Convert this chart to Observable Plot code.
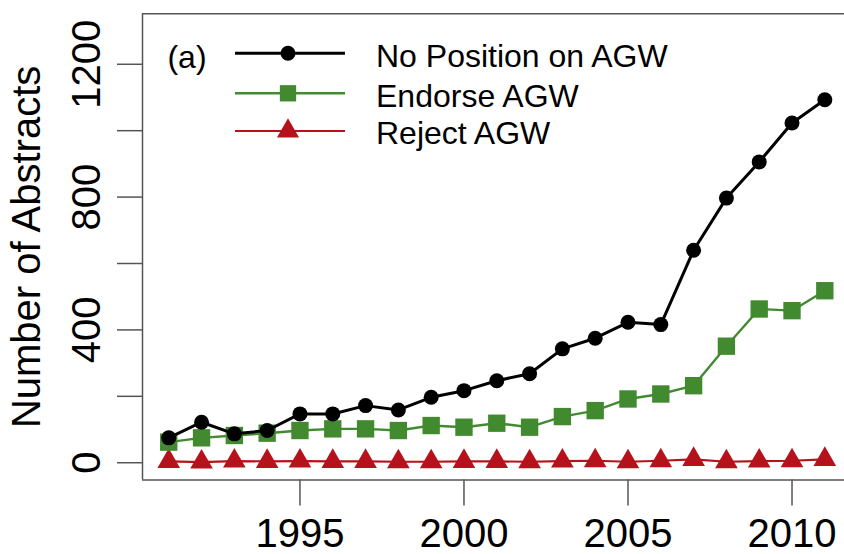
<!DOCTYPE html>
<html>
<head>
<meta charset="utf-8">
<script src="https://cdn.jsdelivr.net/npm/d3@7"></script>
<script src="https://cdn.jsdelivr.net/npm/@observablehq/plot@0.6"></script>
<style>
  html, body { margin: 0; padding: 0; background: white; }
  #wrap { position: relative; width: 844px; height: 554px; overflow: hidden; }
  #legend { position: absolute; left: 0; top: 0; pointer-events: none; }
  #legend text { font-family: "Liberation Sans", Arial, sans-serif; }
</style>
</head>
<body>
<div id="wrap"></div>
<script>
// ---- data ----
const years = [1991, 1992, 1993, 1994, 1995, 1996, 1997, 1998, 1999, 2000, 2001,
               2002, 2003, 2004, 2005, 2006, 2007, 2008, 2009, 2010, 2011];
const noPosition = [75, 122, 87, 97, 147, 147, 172, 159, 197, 217, 247,
                    268, 343, 375, 423, 416, 640, 797, 906, 1023, 1093];
const endorse = [62, 75, 82, 89, 97, 102, 102, 97, 112, 107, 119,
                 107, 139, 157, 192, 207, 232, 351, 463, 458, 518];
const reject = [4, 2, 5, 4, 5, 4, 4, 3, 3, 4, 4,
                3, 5, 6, 3, 6, 10, 3, 5, 6, 10];
const seriesNames = ["No Position on AGW", "Endorse AGW", "Reject AGW"];
const seriesColors = ["#000000", "#428a2f", "#b5121b"];
const xTicks = [1995, 2000, 2005, 2010];
const yTicks = [0, 200, 400, 600, 800, 1000, 1200];
const yLabelTicks = [0, 400, 800, 1200];
const yTitle = "Number of Abstracts";
const panelLabel = "(a)";

// ---- derived tables ----
const xDomain = [1990.2, 2011.6];
const yDomain = [-52, 1352];
const rowsNo = years.map((y, i) => ({year: y, value: noPosition[i]}));
const rowsEn = years.map((y, i) => ({year: y, value: endorse[i]}));
const rowsRe = years.map((y, i) => ({year: y, value: reject[i]}));

const frameColor = "#555555";
const font = "'Liberation Sans', Arial, Helvetica, sans-serif";

const chart = Plot.plot({
  width: 844,
  height: 554,
  marginLeft: 142,
  marginRight: 0,
  marginTop: 13.3,
  marginBottom: 74.5,
  x: {domain: xDomain},
  y: {domain: yDomain},
  style: {fontFamily: font, background: "white", color: "black"},
  marks: [
    Plot.ruleY([yDomain[1]], {stroke: frameColor, strokeWidth: 1.5}),
    Plot.ruleY([yDomain[0]], {stroke: frameColor, strokeWidth: 1.5}),
    Plot.ruleX([xDomain[0]], {stroke: frameColor, strokeWidth: 1.5}),
    Plot.axisY({ticks: yTicks, tickSize: 25, tickFormat: () => "", stroke: frameColor, strokeWidth: 1.5, label: null}),
    Plot.text(yLabelTicks, {y: d => d, text: d => String(d), frameAnchor: "left", dx: -55, rotate: -90,
      fontSize: 40, textAnchor: "middle", lineAnchor: "middle", fill: "black"}),
    Plot.axisX({ticks: xTicks, tickSize: 26, tickPadding: 13, fontSize: 40, tickFormat: d => String(d),
      stroke: frameColor, strokeWidth: 1.5, label: null}),
    Plot.text([yTitle], {text: d => d, frameAnchor: "left", dx: -115, rotate: -90, fontSize: 40,
      textAnchor: "middle", lineAnchor: "middle", fill: "black"}),
    Plot.line(rowsRe, {x: "year", y: "value", stroke: seriesColors[2], strokeWidth: 2.2}),
    Plot.dot(rowsRe, {x: "year", y: "value", symbol: "triangle", r: 8.4, fill: seriesColors[2], stroke: "none"}),
    Plot.line(rowsEn, {x: "year", y: "value", stroke: seriesColors[1], strokeWidth: 2.4}),
    Plot.dot(rowsEn, {x: "year", y: "value", symbol: "square", r: 9.8, fill: seriesColors[1], stroke: "none"}),
    Plot.line(rowsNo, {x: "year", y: "value", stroke: seriesColors[0], strokeWidth: 3}),
    Plot.dot(rowsNo, {x: "year", y: "value", symbol: "circle", r: 7.5, fill: seriesColors[0], stroke: "none"})
  ]
});
const wrap = document.getElementById("wrap");
wrap.appendChild(chart);

// ---- legend overlay ----
const ns = "http://www.w3.org/2000/svg";
const leg = document.createElementNS(ns, "svg");
leg.setAttribute("id", "legend");
leg.setAttribute("width", 844);
leg.setAttribute("height", 554);
wrap.appendChild(leg);
const L = d3.select(leg);
L.append("text").attr("x", 187).attr("y", 57).attr("dy", "0.35em").attr("text-anchor", "middle")
  .attr("font-size", 32).attr("fill", "black").text(panelLabel);
const rowY = [53.3, 93.3, 131];
const symbols = [d3.symbolCircle, d3.symbolSquare, d3.symbolTriangle];
const symR = [7.5, 9.2, 8.2];
const lw = [3, 2.4, 2.2];
seriesNames.forEach((name, i) => {
  const g = L.append("g");
  g.append("line").attr("x1", 235).attr("x2", 345).attr("y1", rowY[i]).attr("y2", rowY[i])
    .attr("stroke", seriesColors[i]).attr("stroke-width", lw[i]);
  g.append("path").attr("transform", `translate(288,${rowY[i]})`)
    .attr("d", d3.symbol(symbols[i], Math.PI * symR[i] * symR[i])())
    .attr("fill", seriesColors[i]);
  g.append("text").attr("x", 376).attr("y", rowY[i] + 2).attr("dy", "0.35em")
    .attr("font-size", 32).attr("fill", "black").text(name);
});
</script>
</body>
</html>
